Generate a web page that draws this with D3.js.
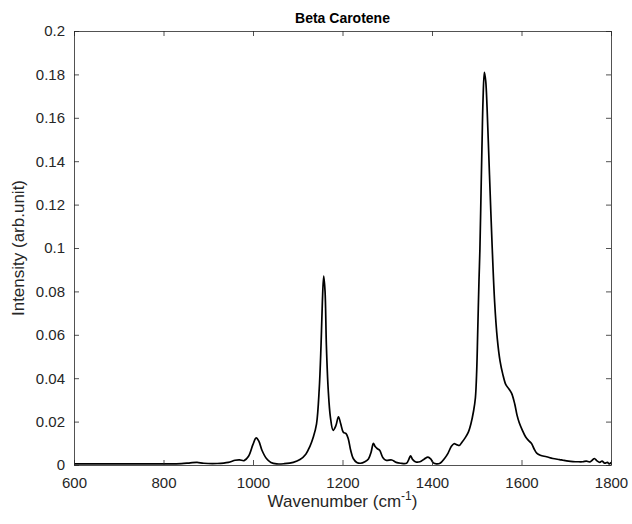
<!DOCTYPE html>
<html>
<head>
<meta charset="utf-8">
<script src="https://cdn.jsdelivr.net/npm/d3@7"></script>
<style>
  html, body { margin: 0; padding: 0; background: #fff; }
  svg { display: block; font-family: "Liberation Sans", Arial, Helvetica, sans-serif; }
</style>
</head>
<body>
<div id="chart"></div>
<script>
// ---- data ----
const title = "Beta Carotene";
const xLabel = "Wavenumber (cm";
const yLabel = "Intensity (arb.unit)";
const xTicks = [600, 800, 1000, 1200, 1400, 1600, 1800];
const yTicks = [0, 0.02, 0.04, 0.06, 0.08, 0.1, 0.12, 0.14, 0.16, 0.18, 0.2];
const xDomain = [600, 1800];
const yDomain = [0, 0.2];

const wavenumber = [
  600, 650, 700, 750, 800, 840, 860, 875, 890, 920, 945, 960, 970, 980, 990,
  1000, 1007, 1013, 1020, 1030, 1040, 1053, 1070, 1090, 1105, 1118, 1127, 1135, 1142, 1148,
  1152, 1155, 1158, 1161, 1164, 1168, 1173, 1179, 1185, 1191, 1196, 1202, 1208, 1213, 1218,
  1224, 1232, 1240, 1250, 1258, 1264, 1269, 1273, 1278, 1283, 1290, 1297, 1310, 1320, 1330,
  1343, 1348, 1352, 1357, 1364, 1373, 1383, 1391, 1397, 1403, 1410, 1418, 1428, 1436, 1443,
  1449, 1455, 1461, 1467, 1474, 1481, 1487, 1493, 1497, 1500, 1502, 1505, 1507, 1510, 1512,
  1514, 1517, 1520, 1523, 1526, 1530, 1534, 1540, 1546, 1552, 1558, 1565, 1572, 1578, 1585,
  1590, 1595, 1602, 1609, 1616, 1622, 1628, 1634, 1642, 1656, 1670, 1685, 1693, 1705, 1715,
  1725, 1737, 1745, 1752, 1758, 1763, 1768, 1775, 1780, 1786, 1792, 1796, 1800
];
const intensity = [
  0.0005, 0.0005, 0.0005, 0.0005, 0.0005, 0.0006, 0.0010, 0.0012, 0.0008, 0.0007, 0.0012, 0.0022, 0.0024, 0.0020, 0.0040,
  0.0095, 0.0125, 0.0110, 0.0068, 0.0030, 0.0012, 0.0005, 0.0006, 0.0012, 0.0025, 0.0050, 0.0085, 0.0130, 0.0190, 0.0350,
  0.0550, 0.0750, 0.0870, 0.0800, 0.0550, 0.0350, 0.0220, 0.0160, 0.0180, 0.0222, 0.0190, 0.0150, 0.0145, 0.0120, 0.0070,
  0.0030, 0.0012, 0.0008, 0.0015, 0.0028, 0.0060, 0.0100, 0.0085, 0.0075, 0.0068, 0.0035, 0.0022, 0.0023, 0.0012, 0.0008,
  0.0008, 0.0025, 0.0042, 0.0025, 0.0014, 0.0015, 0.0028, 0.0036, 0.0028, 0.0010, 0.0005, 0.0008, 0.0030, 0.0055, 0.0085,
  0.0098, 0.0094, 0.0090, 0.0105, 0.0125, 0.0150, 0.0190, 0.0250, 0.0310, 0.0440, 0.0600, 0.0850, 0.0990, 0.1300, 0.1500,
  0.1680, 0.1810, 0.1770, 0.1650, 0.1480, 0.1250, 0.1030, 0.0750, 0.0580, 0.0480, 0.0420, 0.0370, 0.0350, 0.0330, 0.0280,
  0.0230, 0.0195, 0.0160, 0.0130, 0.0112, 0.0100, 0.0075, 0.0055, 0.0045, 0.0038, 0.0030, 0.0025, 0.0022, 0.0018, 0.0016,
  0.0015, 0.0015, 0.0018, 0.0014, 0.0022, 0.0030, 0.0020, 0.0012, 0.0018, 0.0008, 0.0012, 0.0005, 0.0012
];

// ---- layout ----
const W = 632, H = 524;
const m = { left: 74, right: 21, top: 31, bottom: 59 };
const iw = W - m.left - m.right, ih = H - m.top - m.bottom;
const axisColor = "#262626";

const svg = d3.select("#chart").append("svg").attr("width", W).attr("height", H);
const g = svg.append("g").attr("transform", `translate(${m.left},${m.top})`);

const x = d3.scaleLinear().domain(xDomain).range([0, iw]);
const y = d3.scaleLinear().domain(yDomain).range([ih, 0]);
const fmt = d => String(+d.toFixed(2));

// data line
const data = wavenumber.map((w, i) => ({ w, v: intensity[i] }));
g.append("path")
  .datum(data)
  .attr("fill", "none")
  .attr("stroke", "#000")
  .attr("stroke-width", 1.7)
  .attr("stroke-linejoin", "round")
  .attr("d", d3.line().x(d => x(d.w)).y(d => y(d.v)).curve(d3.curveCatmullRom.alpha(0.5)));

// axes (MATLAB style: inward ticks, box)
const tickLen = 5;
function styleAxis(sel) {
  sel.select(".domain").attr("stroke", axisColor).attr("stroke-width", 0.8);
  sel.selectAll(".tick line").attr("stroke", axisColor).attr("stroke-width", 0.8);
  sel.selectAll(".tick text").attr("fill", axisColor).style("font-size", "15px");
}
const xb = g.append("g").attr("transform", `translate(0,${ih})`)
  .call(d3.axisBottom(x).tickValues(xTicks).tickFormat(d3.format("d")).tickSizeInner(-tickLen).tickSizeOuter(0).tickPadding(12));
styleAxis(xb);
const xt = g.append("g")
  .call(d3.axisTop(x).tickValues(xTicks).tickFormat("").tickSizeInner(-tickLen).tickSizeOuter(0));
styleAxis(xt);
const yl = g.append("g")
  .call(d3.axisLeft(y).tickValues(yTicks).tickFormat(fmt).tickSizeInner(-tickLen).tickSizeOuter(0).tickPadding(9));
styleAxis(yl);
const yr = g.append("g").attr("transform", `translate(${iw},0)`)
  .call(d3.axisRight(y).tickValues(yTicks).tickFormat("").tickSizeInner(-tickLen).tickSizeOuter(0));
styleAxis(yr);

// title
svg.append("text")
  .attr("x", m.left + iw / 2).attr("y", 23)
  .attr("text-anchor", "middle")
  .style("font-size", "14px").style("font-weight", "bold")
  .attr("fill", "#000")
  .text(title);

// x label with superscript
const xl = svg.append("text")
  .attr("x", m.left + iw / 2).attr("y", 507)
  .attr("text-anchor", "middle")
  .style("font-size", "17px")
  .attr("fill", axisColor);
xl.append("tspan").text(xLabel);
xl.append("tspan").attr("dy", -7).style("font-size", "12px").text("-1");
xl.append("tspan").attr("dy", 7).text(")");

// y label
svg.append("text")
  .attr("transform", `translate(24,${m.top + ih / 2}) rotate(-90)`)
  .attr("text-anchor", "middle")
  .style("font-size", "17px")
  .attr("fill", axisColor)
  .text(yLabel);
</script>
</body>
</html>
